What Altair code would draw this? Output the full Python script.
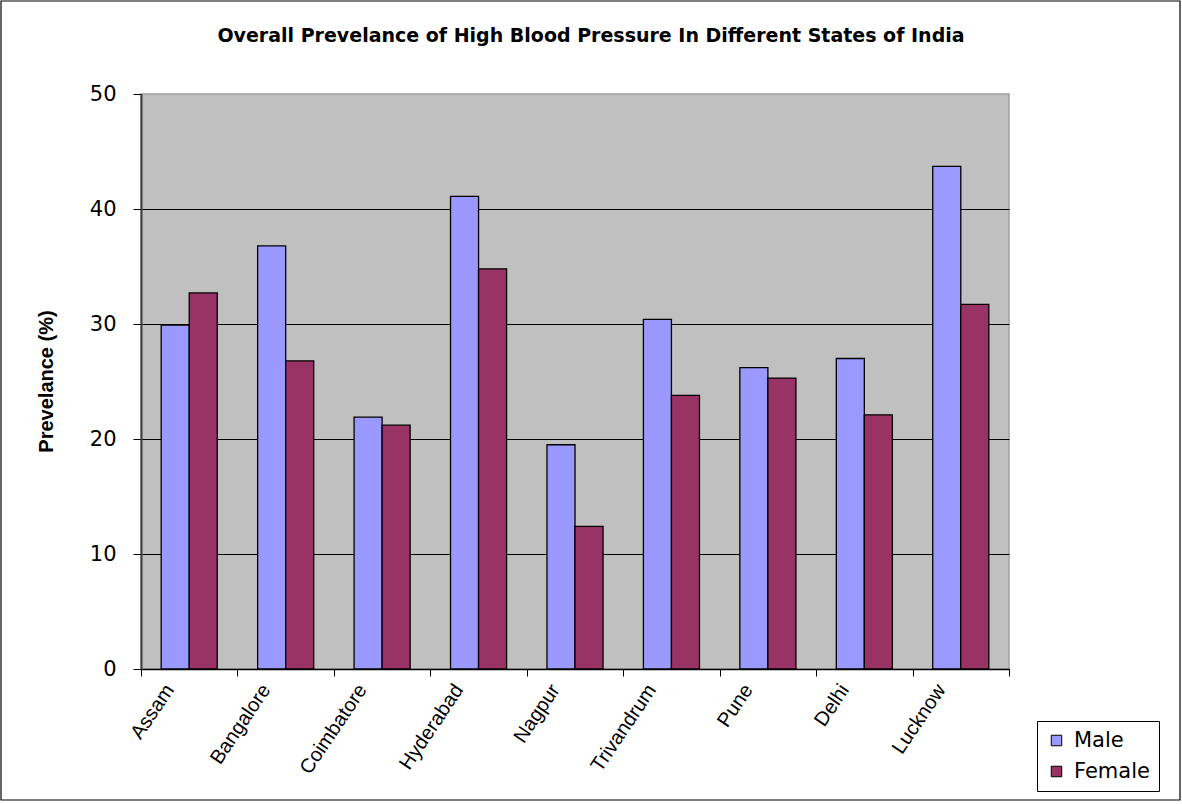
import altair as alt
import pandas as pd

# Prevalence (%) of high blood pressure by centre and sex
states = ["Assam", "Bangalore", "Coimbatore", "Hyderabad", "Nagpur",
          "Trivandrum", "Pune", "Delhi", "Lucknow"]
male = [29.9, 36.8, 21.9, 41.1, 19.5, 30.4, 26.2, 27.0, 43.7]
female = [32.7, 26.8, 21.2, 34.8, 12.4, 23.8, 25.3, 22.1, 31.7]
sexes = ["Male", "Female"]
sex_colors = ["#9999FF", "#993366"]
y_ticks = [0, 10, 20, 30, 40, 50]

rows = []
for s, m, f in zip(states, male, female):
    rows.append({"State": s, "Sex": "Male", "Prevalence": m})
    rows.append({"State": s, "Sex": "Female", "Prevalence": f})
df = pd.DataFrame(rows)

FONT = "Liberation Sans"
WIDE = "DejaVu Sans"

bars = alt.Chart(df).mark_bar(stroke="black", strokeWidth=1.3).encode(
    x=alt.X(
        "State:N",
        sort=states,
        scale=alt.Scale(paddingInner=0, paddingOuter=0),
        axis=alt.Axis(
            title=None,
            labelAngle=-56,
            labelAlign="right",
            labelBaseline="middle",
            labelFont=FONT,
            labelFontSize=20,
            labelColor="black",
            labelPadding=10,
            labelOffset=-20,
            tickBand="extent",
            tickSize=7,
            tickColor="black",
            domainColor="black",
            domainWidth=1.5,
        ),
    ),
    xOffset=alt.XOffset(
        "Sex:N",
        sort=sexes,
        scale=alt.Scale(paddingInner=0, paddingOuter=0.72),
    ),
    y=alt.Y(
        "Prevalence:Q",
        scale=alt.Scale(domain=[0, 50], nice=False),
        axis=alt.Axis(
            title="Prevelance (%)",
            titleFont=FONT,
            titleFontSize=20,
            titleFontWeight="bold",
            titleColor="black",
            titleX=-95,
            titleY=287,
            titleAngle=270,
            titleBaseline="middle",
            titleAlign="center",
            values=y_ticks,
            labelFont=WIDE,
            labelFontSize=21,
            labelColor="black",
            labelPadding=17,
            tickSize=8,
            tickColor="black",
            domainColor="#404040",
            domainWidth=2,
            grid=True,
            gridColor={"condition": {"test": "datum.value === 50", "value": "transparent"},
                       "value": "black"},
            gridWidth=1,
        ),
    ),
    color=alt.Color(
        "Sex:N",
        sort=sexes,
        scale=alt.Scale(domain=sexes, range=sex_colors),
        legend=alt.Legend(
            title=None,
            orient="none",
            legendX=896,
            legendY=627,
            symbolType="square",
            symbolSize=110,
            symbolStrokeColor="black",
            symbolStrokeWidth=1,
            labelFont=WIDE,
            labelFontSize=21,
            labelColor="black",
            labelOffset=7,
            rowPadding=9,
            padding=9,
            strokeColor="black",
            fillColor="white",
        ),
    ),
)

# thin outline around the whole figure
frame = alt.Chart(pd.DataFrame({"k": [0]})).mark_rect(
    fill=None, stroke="black", strokeWidth=1.2
).encode(
    x=alt.value(-140), x2=alt.value(1039),
    y=alt.value(-93), y2=alt.value(706),
)

chart = alt.layer(bars, frame).properties(
    width=868,
    height=575,
    background="white",
    title=alt.TitleParams(
        "Overall Prevelance of High Blood Pressure In Different States of India",
        font=WIDE,
        fontSize=19,
        fontWeight="bold",
        color="black",
        anchor="middle",
        dx=16,
        offset=-46,
    ),
    autosize=alt.AutoSizeParams(type="none"),
    padding={"left": 141, "top": 94, "right": 173, "bottom": 135},
).configure_view(
    fill="#C0C0C0",
    stroke="#A0A0A0",
    strokeWidth=1.5,
)

chart.save("out.html", embed_options={"renderer": "svg", "actions": False})
